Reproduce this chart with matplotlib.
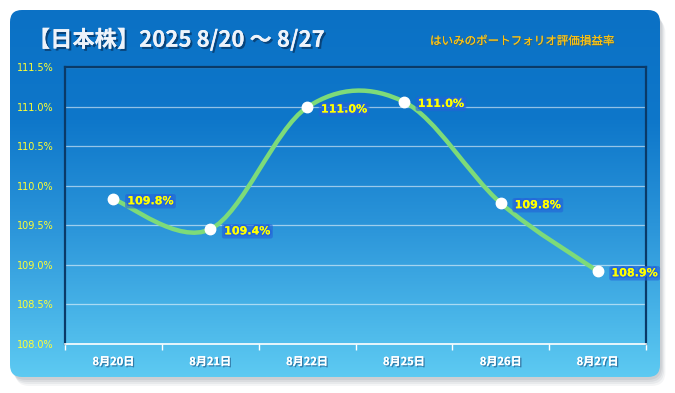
import matplotlib
matplotlib.use('Agg')
import matplotlib.pyplot as plt
import matplotlib.patheffects as pe
import numpy as np
from matplotlib.patches import FancyBboxPatch, PathPatch
from matplotlib.path import Path
from matplotlib.colors import LinearSegmentedColormap

plt.rcParams['font.family'] = ['Noto Sans CJK JP', 'DejaVu Sans']

# data
dates = ['8月20日', '8月21日', '8月22日', '8月25日', '8月26日', '8月27日']
values = [109.83, 109.45, 110.99, 111.06, 109.78, 108.92]
value_labels = ['109.8%', '109.4%', '111.0%', '111.0%', '109.8%', '108.9%']
y_ticks = [108.0, 108.5, 109.0, 109.5, 110.0, 110.5, 111.0, 111.5]

title = '【日本株】2025 8/20 〜 8/27'
subtitle = 'はいみのポートフォリオ評価損益率'

W, H = 675, 393
fig = plt.figure(figsize=(W / 100, H / 100), dpi=100)
fig.patch.set_facecolor('white')

# background panel, pixel coordinates
bg = fig.add_axes([0, 0, 1, 1])
bg.set_xlim(0, W)
bg.set_ylim(H, 0)
bg.axis('off')

for k, a in enumerate([0.08, 0.10, 0.12, 0.14]):
    off = 9 - 2 * k
    sh = FancyBboxPatch((10 + off * 0.6, 10 + off), 650, 367,
                        boxstyle='round,pad=0,rounding_size=14',
                        fc='#7d8590', ec='none', alpha=a, zorder=0)
    bg.add_patch(sh)

panel = FancyBboxPatch((10, 10), 650, 367,
                       boxstyle='round,pad=0,rounding_size=12',
                       fc='none', ec='none', zorder=1)
bg.add_patch(panel)
cmap = LinearSegmentedColormap.from_list(
    'panel', [(0, '#0B71C5'), (0.3, '#0E77CA'), (0.6, '#2C96DA'), (1, '#5DCAF2')])
grad = np.linspace(0, 1, 256).reshape(-1, 1)
im = bg.imshow(grad, cmap=cmap, aspect='auto', extent=(10, 660, 377, 10), zorder=1)
im.set_clip_path(panel)

bg.text(28, 40, title, fontsize=16, fontweight='bold', color='#EEF3FA',
        va='center', ha='left', zorder=3,
        path_effects=[pe.withSimplePatchShadow(offset=(1.5, -1.5), shadow_rgbFace='#08305a', alpha=0.7),
                      pe.Normal()])
bg.text(430, 41, subtitle, fontsize=8.3, color='#FFC20E', va='center', ha='left', zorder=3,
        path_effects=[pe.withSimplePatchShadow(offset=(0.8, -0.8), shadow_rgbFace='#6a5a20', alpha=0.5),
                      pe.Normal()])

# plot area
ax = fig.add_axes([65 / W, (H - 344) / H, 581 / W, 277 / H])
ax.patch.set_alpha(0)
ax.set_xlim(0, 6)
ax.set_ylim(108.0, 111.5)

ax.set_yticks(y_ticks)
ax.set_yticklabels(['{:.1f}%'.format(v) for v in y_ticks], color='#FFFF33', fontsize=7,
                   family=['DejaVu Sans'])
ax.tick_params(axis='y', length=0, pad=8)
ax.grid(axis='y', color='white', alpha=0.55, lw=0.9)

ax.set_xticks(range(7))
ax.set_xticklabels([])
ax.set_xticks([i + 0.5 for i in range(6)], minor=True)
ax.set_xticklabels(dates, minor=True, color='white', fontsize=8, fontweight='bold')
for t in ax.get_xticklabels(minor=True):
    t.set_path_effects([pe.withSimplePatchShadow(offset=(1, -1), shadow_rgbFace='#1a4a7a', alpha=0.6),
                        pe.Normal()])
ax.tick_params(axis='x', which='major', length=4, color='white', width=1, direction='out')
ax.tick_params(axis='x', which='minor', length=0, pad=8)

for s in ['left', 'right', 'top']:
    ax.spines[s].set_color('#0A3A68')
    ax.spines[s].set_linewidth(1.6)
ax.spines['bottom'].set_color('white')
ax.spines['bottom'].set_linewidth(1.2)

# smoothed line as cubic bezier segments through the points
xs = [i + 0.5 for i in range(len(values))]
pts = np.array(list(zip(xs, values)))
n = len(pts)
verts = [pts[0]]
codes = [Path.MOVETO]
for i in range(n - 1):
    p0 = pts[max(i - 1, 0)]
    p1 = pts[i]
    p2 = pts[i + 1]
    p3 = pts[min(i + 2, n - 1)]
    verts += [p1 + (p2 - p0) / 6, p2 - (p3 - p1) / 6, p2]
    codes += [Path.CURVE4] * 3
ax.add_patch(PathPatch(Path(verts, codes), fc='none', ec='#7DDB79', lw=3.2,
                       capstyle='round', zorder=3))
ax.plot(xs, values, ls='none', marker='o', ms=7.5, mfc='white', mec='white', zorder=4)

for x, v, lab in zip(xs, values, value_labels):
    ax.annotate(lab, (x, v), xytext=(10, -1.5), textcoords='offset points',
                ha='left', va='center', fontsize=8, fontweight='bold', color='#FFFF00',
                family=['DejaVu Sans'], zorder=5,
                path_effects=[pe.withStroke(linewidth=2.5, foreground='#2468DA'), pe.Normal()],
                bbox=dict(boxstyle='round,pad=0.2', fc='#2363D8', ec='none', alpha=0.6))

fig.savefig('out.png', dpi=100, facecolor='white')
